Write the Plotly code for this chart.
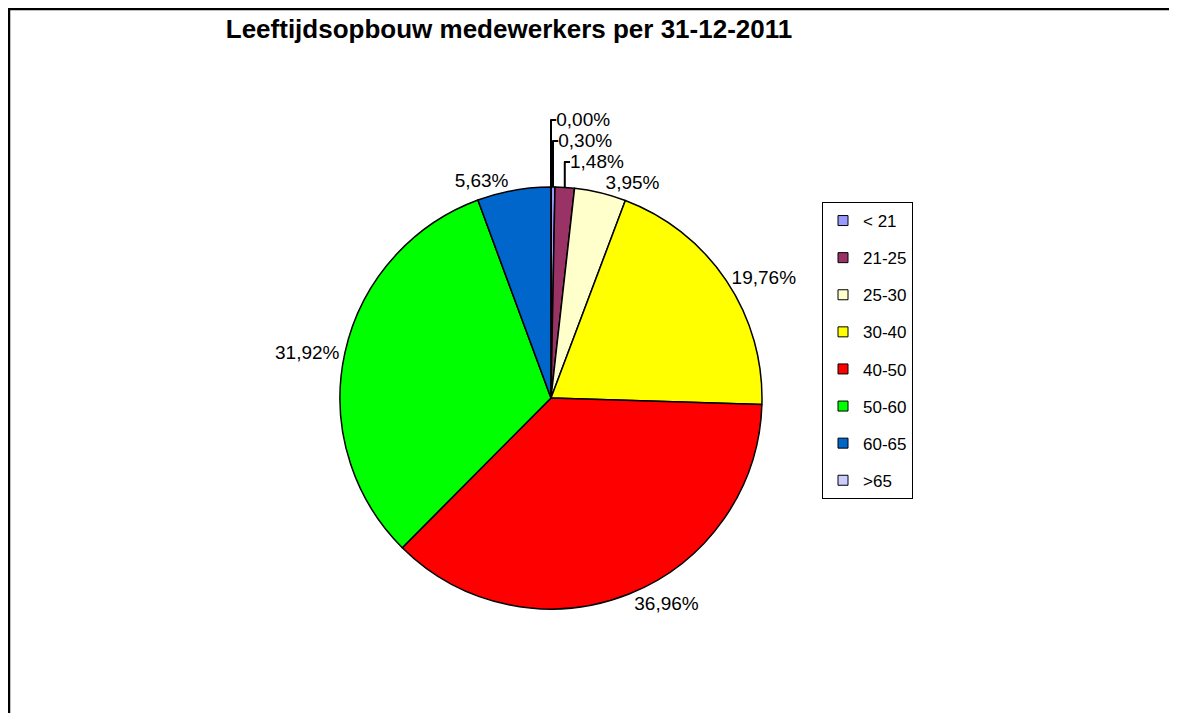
import plotly.graph_objects as go

# leeftijdsklassen en aandelen (%)
categories = ["< 21", "21-25", "25-30", "30-40", "40-50", "50-60", "60-65", ">65"]
shares = [0.30, 1.48, 3.95, 19.76, 36.96, 31.92, 5.63, 0.00]
colors = ["#9999FF", "#993366", "#FFFFCC", "#FFFF00", "#FF0000", "#00FF00", "#0066CC", "#CCCCFF"]

W, H = 1177, 713
OFF = 8  # page body margin
FONT = "Liberation Sans, Arial, sans-serif"

labels_txt = [f"{v:.2f}".replace(".", ",") + "%" for v in shares]

fig = go.Figure()

# pie centre ~ (551, 398), radius ~211 px in the screenshot
cx, cy, r = 551 - OFF, 398 - OFF, 211
fig.add_trace(go.Pie(
    labels=categories, values=shares, text=labels_txt,
    textinfo="text", textposition="outside",
    textfont=dict(family=FONT, size=19, color="black"),
    marker=dict(colors=colors, line=dict(color="black", width=1.5)),
    sort=False, direction="clockwise", rotation=0,
    domain=dict(x=[(cx - r) / W, (cx + r) / W], y=[(H - cy - r) / H, (H - cy + r) / H]),
    showlegend=False, hoverinfo="label+text",
))

# legend entries as dummy traces, to get Excel-like spacing
for name, col in zip(categories, colors):
    fig.add_trace(go.Scatter(
        x=[None], y=[None], mode="markers", name=name,
        marker=dict(symbol="square", size=10, color=col, line=dict(color="black", width=1)),
        legendgroup=name,
    ))

fig.update_layout(
    width=W, height=H,
    margin=dict(l=0, r=0, t=0, b=0),
    paper_bgcolor="white", plot_bgcolor="white",
    font=dict(family=FONT, size=17, color="black"),
    title=dict(text="<b>Leeftijdsopbouw medewerkers per 31-12-2011</b>",
               font=dict(family=FONT, size=26, color="black"),
               x=(509 - OFF) / W, xanchor="center", y=1 - (29 - OFF) / H, yanchor="middle"),
    xaxis=dict(visible=False), yaxis=dict(visible=False),
    legend=dict(x=(822 - OFF) / W, y=1 - (202 - OFF) / H, xanchor="left", yanchor="top",
                bordercolor="black", borderwidth=1, bgcolor="white",
                tracegroupgap=12, itemclick=False, itemwidth=30,
                font=dict(family=FONT, size=17, color="black")),
    shapes=[dict(type="rect", xref="paper", yref="paper",
                 x0=1 / W, x1=1.02, y0=-0.02, y1=1 - 1 / H,
                 line=dict(color="black", width=2.5))],
)

fig.write_html("out.html")
